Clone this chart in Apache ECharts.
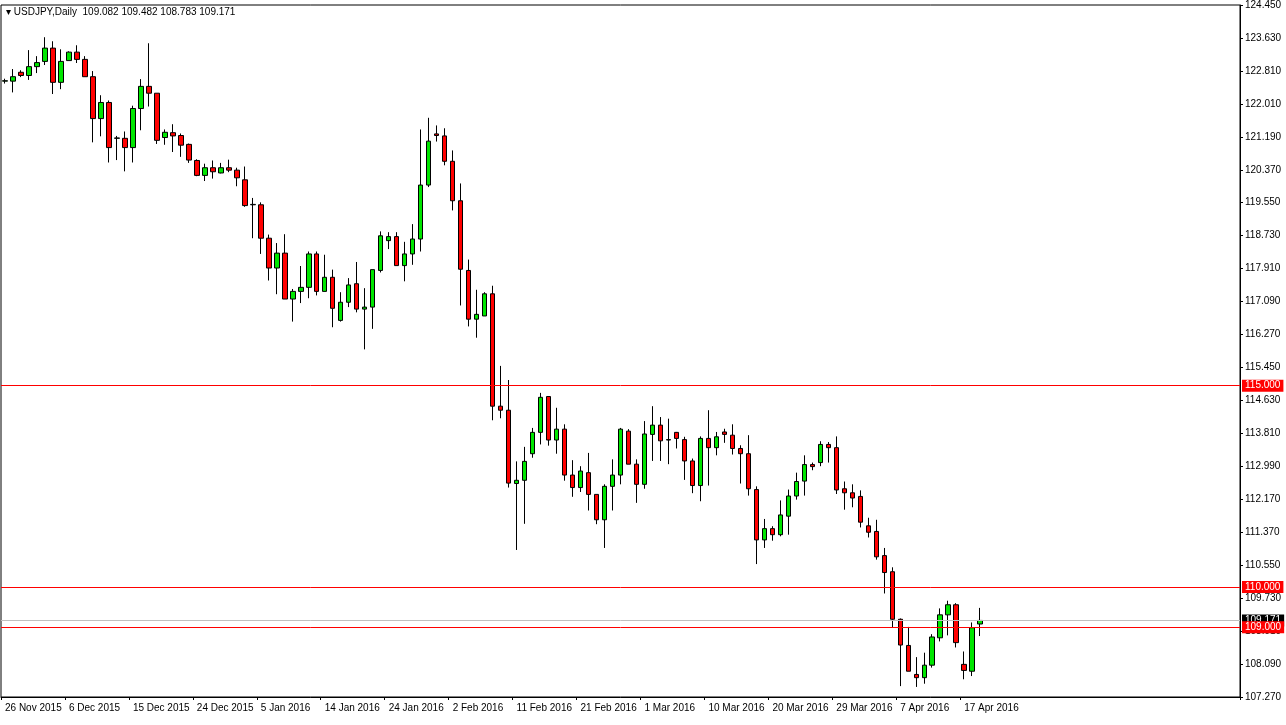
<!DOCTYPE html>
<html>
<head>
<meta charset="utf-8">
<script src="https://cdn.jsdelivr.net/npm/echarts@6/dist/echarts.min.js"></script>
<style>
  html, body { margin: 0; padding: 0; background: #fff; }
  #chart { width: 1286px; height: 725px; }
</style>
</head>
<body>
<div id="chart"></div>
<script>
// candles: [open, close, low, high], one per bar (8px per bar in the original)
var candles = [
  [122.56,122.57,122.50,122.62],[122.56,122.67,122.28,122.86],[122.78,122.70,122.66,122.83],[122.70,122.92,122.59,123.33],
  [122.92,123.02,122.76,123.18],[123.05,123.38,122.96,123.65],[123.38,122.53,122.24,123.55],[122.53,123.05,122.36,123.35],
  [123.07,123.28,123.07,123.30],[123.28,123.10,123.01,123.45],[123.10,122.67,122.67,123.18],[122.67,121.63,121.04,122.81],
  [121.63,122.03,121.19,122.21],[122.03,120.91,120.54,122.08],[121.14,121.15,120.60,121.20],[121.14,120.91,120.32,121.31],
  [120.91,121.88,120.54,121.95],[121.88,122.43,121.34,122.61],[122.43,122.26,121.93,123.50],[122.26,121.09,121.00,122.26],
  [121.16,121.29,120.98,121.36],[121.28,121.20,120.80,121.49],[121.21,120.97,120.68,121.26],[120.99,120.60,120.53,121.01],
  [120.59,120.22,120.20,120.62],[120.22,120.41,120.08,120.51],[120.41,120.31,120.14,120.59],[120.28,120.41,120.27,120.53],
  [120.41,120.35,120.30,120.61],[120.35,120.16,119.95,120.41],[120.11,119.47,119.44,120.44],[119.49,119.50,118.66,119.66],
  [119.49,118.66,118.27,119.55],[118.66,117.92,117.61,118.75],[117.92,118.29,117.27,118.54],[118.29,117.15,117.15,118.76],
  [117.15,117.34,116.59,117.40],[117.34,117.44,117.05,117.97],[117.44,118.27,117.17,118.33],[118.27,117.34,117.24,118.33],
  [117.34,117.69,117.34,118.25],[117.69,116.92,116.45,117.88],[116.62,117.07,116.59,117.32],[117.07,117.50,116.95,117.67],
  [117.53,116.90,116.82,118.07],[116.90,116.95,115.90,117.42],[116.95,117.88,116.41,117.88],[117.86,118.72,117.81,118.83],
  [118.60,118.70,118.39,118.81],[118.70,117.98,117.98,118.81],[117.98,118.27,117.59,118.57],[118.27,118.64,118.00,119.01],
  [118.64,119.98,118.33,121.36],[119.98,121.07,119.93,121.65],[121.25,121.21,121.06,121.46],[121.20,120.57,120.47,121.39],
  [120.57,119.59,119.35,120.84],[119.59,117.89,116.99,120.02],[117.86,116.65,116.47,118.13],[116.65,116.77,116.19,117.38],
  [116.73,117.28,116.73,117.32],[117.28,114.49,114.14,117.48],[114.49,114.39,114.19,115.49],[114.39,112.58,112.47,115.14],
  [112.57,112.65,110.92,113.12],[112.65,113.12,111.57,113.48],[113.31,113.84,113.21,113.95],[113.84,114.71,113.54,114.82],
  [114.73,113.65,113.51,114.74],[113.65,113.92,113.31,114.45],[113.92,112.78,112.64,114.04],[112.78,112.47,112.24,113.15],
  [112.47,112.88,112.36,113.00],[112.84,112.30,111.90,113.33],[112.30,111.67,111.56,112.30],[111.67,112.50,110.97,112.55],
  [112.50,112.78,111.90,113.17],[112.78,113.92,112.55,113.95],[113.87,113.05,113.05,113.92],[113.05,112.55,112.09,113.17],
  [112.55,113.80,112.44,114.12],[113.79,114.02,113.13,114.49],[114.02,113.63,113.13,114.22],[113.65,113.66,113.05,114.18],
  [113.84,113.69,113.44,113.85],[113.66,113.13,112.66,113.73],[113.13,112.52,112.33,113.19],[112.52,113.69,112.13,113.74],
  [113.69,113.46,112.52,114.39],[113.46,113.73,113.27,113.85],[113.85,113.79,113.58,113.93],[113.77,113.44,113.29,114.04],
  [113.44,113.31,112.57,113.52],[113.31,112.44,112.27,113.77],[112.42,111.17,110.57,112.50],[111.17,111.45,110.97,111.69],
  [111.45,111.30,111.15,111.51],[111.30,111.79,111.26,112.15],[111.76,112.26,111.30,112.42],[112.26,112.62,112.17,112.84],
  [112.63,113.04,112.27,113.27],[113.04,112.99,112.90,113.09],[113.09,113.54,113.00,113.62],[113.54,113.46,113.09,113.60],
  [113.46,112.41,112.31,113.74],[112.44,112.34,111.92,112.62],[112.34,112.21,111.98,112.55],[112.25,111.61,111.48,112.40],
  [111.52,111.36,111.23,111.72],[111.38,110.75,110.68,111.67],[110.78,110.36,109.84,110.97],[110.38,109.20,108.99,110.49],
  [109.20,108.56,107.54,109.22],[108.55,107.91,107.91,109.01],[107.83,107.75,107.52,108.26],[107.75,108.06,107.60,108.37],
  [108.06,108.76,108.00,108.83],[108.74,109.31,108.65,109.47],[109.31,109.56,108.80,109.66],[109.56,108.62,108.50,109.60],
  [108.08,107.93,107.71,108.40],[107.91,108.99,107.79,109.12],[109.082,109.171,108.783,109.482]
];
var totalBars = 155;
var dateLabels = ['26 Nov 2015','6 Dec 2015','15 Dec 2015','24 Dec 2015','5 Jan 2016','14 Jan 2016','24 Jan 2016',
  '2 Feb 2016','11 Feb 2016','21 Feb 2016','1 Mar 2016','10 Mar 2016','20 Mar 2016','29 Mar 2016','7 Apr 2016','17 Apr 2016'];
var priceTicks = ['107.270','108.090','108.910','109.730','110.550','111.370','112.170','112.990','113.810','114.630',
  '115.450','116.270','117.090','117.910','118.730','119.550','120.370','121.190','122.010','122.810','123.630','124.450'];
var levels = [115.0, 110.0, 109.0];
var lastPrice = 109.171;

var yMin = 107.27, yMax = 124.45;
var step = (yMax - yMin) / 21;

var cats = [];
for (var i = 0; i < totalBars; i++) cats.push(String(i));

var lines = levels.map(function (v) {
  return {
    yAxis: v,
    lineStyle: { color: '#ff0000', width: 1, type: 'solid' },
    label: { show: true, position: 'end', formatter: v.toFixed(3), color: '#fff',
      backgroundColor: '#ff0000', padding: [1, 3], fontSize: 10, fontFamily: 'Liberation Sans', distance: 2 }
  };
});
lines.unshift({
  yAxis: lastPrice,
  lineStyle: { color: '#c0c0c0', width: 1, type: 'solid' },
  label: { show: true, position: 'end', formatter: lastPrice.toFixed(3), color: '#fff',
    backgroundColor: '#000', padding: [1, 3], fontSize: 10, fontFamily: 'Liberation Sans', distance: 2 }
});

var myChart = echarts.init(document.getElementById('chart'));
myChart.setOption({
  animation: false,
  backgroundColor: '#fff',
  grid: { left: 1, right: 46, top: 5, bottom: 28, show: true, borderColor: '#000', borderWidth: 1 },
  graphic: [{
    type: 'text', left: 6, top: 7,
    style: { text: '\u25BE USDJPY,Daily  109.082 109.482 108.783 109.171', fill: '#000', fontSize: 10, fontFamily: 'Liberation Sans' }
  }],
  xAxis: {
    type: 'category', data: cats, boundaryGap: true,
    axisLine: { lineStyle: { color: '#000' } },
    axisTick: { show: true, interval: function (idx) { return idx % 8 === 0 && idx / 8 < dateLabels.length; }, length: 3, lineStyle: { color: '#000' } },
    axisLabel: {
      interval: 0, color: '#000', fontSize: 10, fontFamily: 'Liberation Sans', align: 'left', margin: 6,
      formatter: function (v, idx) { return (idx % 8 === 0 && dateLabels[idx / 8]) ? dateLabels[idx / 8] : ''; }
    },
    splitLine: { show: false }
  },
  yAxis: {
    type: 'value', position: 'right', min: yMin, max: yMax, interval: step, scale: true,
    axisLine: { show: true, lineStyle: { color: '#000' } },
    axisTick: { show: true, length: 3, inside: false, lineStyle: { color: '#000' } },
    axisLabel: {
      color: '#000', fontSize: 10, fontFamily: 'Liberation Sans', margin: 5,
      formatter: function (v) { return priceTicks[Math.round((v - yMin) / step)] || ''; }
    },
    splitLine: { show: false }
  },
  series: [{
    type: 'candlestick',
    data: candles,
    barWidth: 5,
    itemStyle: { color: '#00e600', color0: '#ff0000', borderColor: '#000', borderColor0: '#000', borderWidth: 1 },
    markLine: { symbol: 'none', silent: true, data: lines, animation: false }
  }]
});
</script>
</body>
</html>
